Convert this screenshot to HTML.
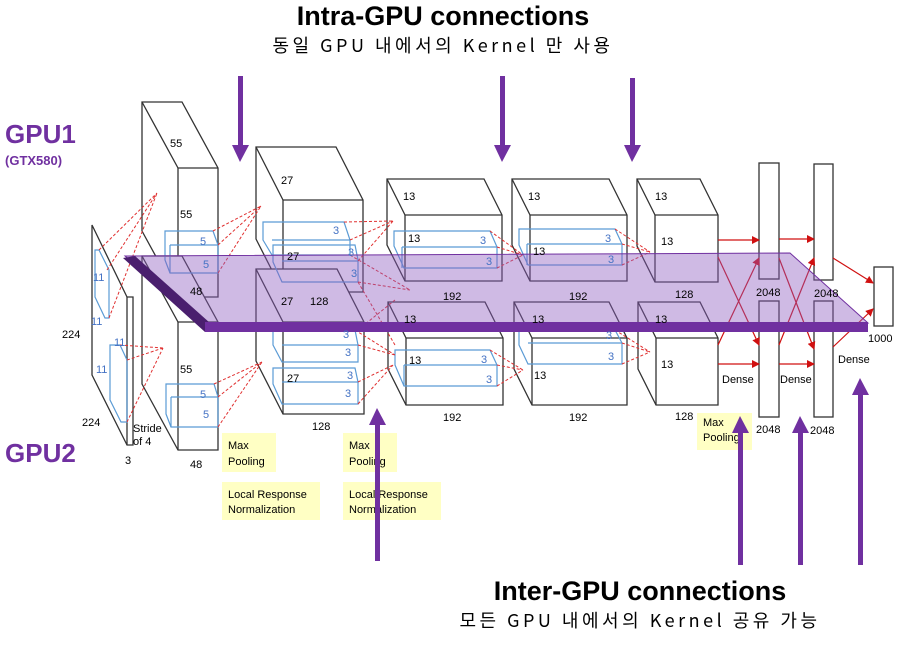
<!DOCTYPE html>
<html><head><meta charset="utf-8"><style>
body{margin:0;background:#fff;width:900px;height:657px;overflow:hidden}
svg{display:block}
text{font-family:"Liberation Sans","Noto Sans CJK KR",sans-serif}
</style></head><body>
<svg width="900" height="657" viewBox="0 0 900 657" xmlns="http://www.w3.org/2000/svg">
<defs>
<marker id="ra" markerWidth="8" markerHeight="8" refX="7" refY="4" orient="auto" markerUnits="userSpaceOnUse"><path d="M0,0 L8,4 L0,8 z" fill="#d01010"/></marker>
</defs>
<text x="443" y="25" font-size="27" font-weight="bold" text-anchor="middle" fill="#000">Intra-GPU connections</text>
<text x="443" y="52" font-size="18" letter-spacing="3.5" text-anchor="middle" fill="#000" style="font-family:'Noto Sans CJK KR',sans-serif">동일 GPU 내에서의 Kernel 만 사용</text>
<text x="640" y="600" font-size="27" font-weight="bold" text-anchor="middle" fill="#000">Inter-GPU connections</text>
<text x="640" y="627" font-size="18" letter-spacing="3.5" text-anchor="middle" fill="#000" style="font-family:'Noto Sans CJK KR',sans-serif">모든 GPU 내에서의 Kernel 공유 가능</text>
<text x="5" y="143" font-size="26" font-weight="bold" fill="#7030a0">GPU1</text>
<text x="5" y="165" font-size="13" font-weight="bold" fill="#7030a0">(GTX580)</text>
<text x="5" y="462" font-size="26" font-weight="bold" fill="#7030a0">GPU2</text>

<g stroke="#333" stroke-width="1.3" fill="#fff">
<polygon points="92,225 127,297 133,297 133,445 127,445 92,375"/>
<line x1="127" y1="297" x2="127" y2="445"/>
<polygon points="142,102 182,102 218,168 218,297 178,297 142,231"/>
<polyline points="142,102 178,168 218,168" fill="none"/><line x1="178" y1="168" x2="178" y2="297"/>
<polygon points="142,256 182,256 218,322 218,450 178,450 142,384"/>
<polyline points="142,256 178,322 218,322" fill="none"/><line x1="178" y1="322" x2="178" y2="450"/>
<polygon points="256,147 336,147 363,200 363,292 283,292 256,239"/>
<polyline points="256,147 283,200 363,200" fill="none"/><line x1="283" y1="200" x2="283" y2="292"/>
<polygon points="256,269 337,269 364,322 364,414 283,414 256,361"/>
<polyline points="256,269 283,322 364,322" fill="none"/><line x1="283" y1="322" x2="283" y2="414"/>
<polygon points="387,179 484,179 502,215 502,281 405,281 387,245"/>
<polyline points="387,179 405,215 502,215" fill="none"/><line x1="405" y1="215" x2="405" y2="281"/>
<polygon points="388,302 485,302 503,338 503,405 406,405 388,369"/>
<polyline points="388,302 406,338 503,338" fill="none"/><line x1="406" y1="338" x2="406" y2="405"/>
<polygon points="512,179 609,179 627,215 627,281 530,281 512,245"/>
<polyline points="512,179 530,215 627,215" fill="none"/><line x1="530" y1="215" x2="530" y2="281"/>
<polygon points="514,302 609,302 627,338 627,405 532,405 514,369"/>
<polyline points="514,302 532,338 627,338" fill="none"/><line x1="532" y1="338" x2="532" y2="405"/>
<polygon points="637,179 700,179 718,215 718,282 655,282 637,246"/>
<polyline points="637,179 655,215 718,215" fill="none"/><line x1="655" y1="215" x2="655" y2="282"/>
<polygon points="638,302 700,302 718,338 718,405 656,405 638,369"/>
<polyline points="638,302 656,338 718,338" fill="none"/><line x1="656" y1="338" x2="656" y2="405"/>
<rect x="759" y="163" width="20" height="116"/><rect x="759" y="301" width="20" height="116"/>
<rect x="814" y="164" width="19" height="116"/><rect x="814" y="301" width="19" height="116"/>
<rect x="874" y="267" width="19" height="59"/>
</g>

<g stroke="#5b9bd5" stroke-width="1.2" fill="none">
<polygon points="95,250 99,250 109,270 109,318 105,318 95,297"/>
<polygon points="110,345 120,345 127,360 127,422 121,422 110,400"/>
<polygon points="165,231 213,231 218,245 218,273 170,273 165,260"/><line x1="170" y1="245" x2="218" y2="245"/><line x1="170" y1="245" x2="170" y2="273"/>
<polygon points="166,384 214,384 218,397 218,427 171,427 166,414"/><line x1="171" y1="397" x2="218" y2="397"/><line x1="171" y1="397" x2="171" y2="427"/>
<polygon points="263,222 344,222 350,240 350,255 272,255 263,240"/><line x1="272" y1="240" x2="350" y2="240"/>
<polygon points="273,245 355,245 358,260 358,282 282,282 273,262"/><line x1="282" y1="261" x2="358" y2="261"/>
<polygon points="273,330 355,330 358,345 358,362 282,362 273,345"/><line x1="282" y1="345" x2="358" y2="345"/>
<polygon points="273,368 355,368 358,382 358,404 282,404 273,384"/><line x1="282" y1="382" x2="358" y2="382"/>
<polygon points="394,231 490,231 497,247 497,268 404,268 394,246"/><line x1="402" y1="247" x2="497" y2="247"/><line x1="402" y1="247" x2="402" y2="268"/>
<polygon points="519,229 615,229 622,244 622,265 528,265 519,245"/><line x1="527" y1="244" x2="622" y2="244"/><line x1="527" y1="244" x2="527" y2="265"/>
<polygon points="395,350 490,350 497,365 497,386 404,386 395,365"/><line x1="404" y1="365" x2="497" y2="365"/><line x1="404" y1="365" x2="404" y2="386"/>
<polygon points="519,330 615,330 622,343 622,364 528,364 519,345"/><line x1="528" y1="343" x2="622" y2="343"/>
</g>

<g stroke="#e03030" stroke-width="1" stroke-dasharray="3,2" fill="none">
<path d="M107,270 L157,193 M109,318 L157,193 M99,250 L157,193 M120,345 L163,348 M127,360 L163,348 M127,422 L163,348"/>
<path d="M213,231 L261,206 M218,245 L261,206 M218,273 L261,206 M214,384 L262,362 M218,397 L262,362 M218,427 L262,362"/>
<path d="M344,222 L393,221 M350,240 L393,221 M358,261 L393,221 M358,282 L410,290 M350,255 L410,290 M355,330 L395,355 M358,345 L395,355 M358,382 L393,365 M358,404 L393,365 M358,282 L395,345 M358,330 L395,300"/>
<path d="M490,231 L523,255 M497,247 L523,255 M497,268 L523,255 M490,350 L523,370 M497,365 L523,370 M497,386 L523,370"/>
<path d="M615,229 L650,252 M622,244 L650,252 M622,265 L650,252 M615,330 L650,352 M622,343 L650,352 M622,364 L650,352"/>
</g>

<g stroke="#d01010" stroke-width="1.2" marker-end="url(#ra)">
<line x1="718" y1="240" x2="759" y2="240"/><line x1="779" y1="239" x2="814" y2="239"/>
<line x1="718" y1="364" x2="759" y2="364"/><line x1="779" y1="364" x2="814" y2="364"/>
<line x1="718" y1="257" x2="759" y2="345"/><line x1="718" y1="345" x2="759" y2="258"/>
<line x1="779" y1="258" x2="814" y2="349"/><line x1="779" y1="345" x2="814" y2="258"/>
<line x1="833" y1="258" x2="873" y2="283"/><line x1="833" y1="347" x2="873" y2="309"/>
</g>

<polygon points="125,256 790,253 868,323 205,323" fill="rgba(140,90,190,0.42)" stroke="#7030a0" stroke-width="1"/>
<polygon points="123,258 135,256 210,323 205,332" fill="#4a1f6e"/>
<rect x="205" y="322" width="663" height="10" fill="#7030a0"/>

<g font-size="11" fill="#000">
<text x="170" y="147">55</text><text x="180" y="218">55</text><text x="190" y="295">48</text>
<text x="180" y="373">55</text><text x="190" y="468">48</text>
<text x="62" y="338">224</text><text x="82" y="426">224</text><text x="125" y="464">3</text>
<text x="133" y="432">Stride</text><text x="133" y="445">of 4</text>
<text x="281" y="184">27</text><text x="287" y="260">27</text><text x="281" y="305">27</text><text x="310" y="305">128</text>
<text x="287" y="382">27</text><text x="312" y="430">128</text>
<text x="403" y="200">13</text><text x="528" y="200">13</text><text x="655" y="200">13</text>
<text x="408" y="242">13</text><text x="533" y="255">13</text><text x="661" y="245">13</text>
<text x="404" y="323">13</text><text x="532" y="323">13</text><text x="655" y="323">13</text>
<text x="409" y="364">13</text><text x="534" y="379">13</text><text x="661" y="368">13</text>
<text x="443" y="300">192</text><text x="569" y="300">192</text><text x="675" y="298">128</text>
<text x="443" y="421">192</text><text x="569" y="421">192</text><text x="675" y="420">128</text>
<text x="756" y="296">2048</text><text x="814" y="297">2048</text>
<text x="756" y="433">2048</text><text x="810" y="434">2048</text><text x="868" y="342">1000</text>
<text x="722" y="383">Dense</text><text x="780" y="383">Dense</text><text x="838" y="363">Dense</text>
</g>
<g font-size="11" fill="#4472c4">
<text x="93" y="281">11</text><text x="91" y="325">11</text><text x="114" y="346">11</text><text x="96" y="373">11</text>
<text x="200" y="245">5</text><text x="203" y="268">5</text><text x="200" y="398">5</text><text x="203" y="418">5</text>
<text x="333" y="234">3</text><text x="348" y="256">3</text><text x="351" y="277">3</text>
<text x="343" y="338">3</text><text x="345" y="356">3</text><text x="347" y="379">3</text><text x="345" y="397">3</text>
<text x="480" y="244">3</text><text x="486" y="265">3</text><text x="605" y="242">3</text><text x="608" y="263">3</text>
<text x="481" y="363">3</text><text x="486" y="383">3</text><text x="606" y="339">3</text><text x="608" y="360">3</text>
</g>

<g fill="#ffffc4">
<rect x="222" y="433" width="54" height="39"/><rect x="222" y="482" width="98" height="38"/>
<rect x="343" y="433" width="54" height="39"/><rect x="343" y="482" width="98" height="38"/>
<rect x="697" y="413" width="55" height="37"/>
</g>
<g font-size="11" fill="#000">
<text x="228" y="449">Max</text><text x="228" y="465">Pooling</text>
<text x="228" y="498">Local Response</text><text x="228" y="513">Normalization</text>
<text x="349" y="449">Max</text><text x="349" y="465">Pooling</text>
<text x="349" y="498">Local Response</text><text x="349" y="513">Normalization</text>
<text x="703" y="426">Max</text><text x="703" y="441">Pooling</text>
</g>

<g fill="#7030a0">
<rect x="238" y="76" width="5" height="70"/><polygon points="232,145 249,145 240,162"/>
<rect x="500" y="76" width="5" height="70"/><polygon points="494,145 511,145 502,162"/>
<rect x="630" y="78" width="5" height="68"/><polygon points="624,145 641,145 632,162"/>
<rect x="375" y="424" width="5" height="137"/><polygon points="369,425 386,425 377,408"/>
<rect x="738" y="432" width="5" height="133"/><polygon points="732,433 749,433 740,416"/>
<rect x="798" y="432" width="5" height="133"/><polygon points="792,433 809,433 800,416"/>
<rect x="858" y="394" width="5" height="171"/><polygon points="852,395 869,395 860,378"/>
</g>
</svg>
</body></html>
